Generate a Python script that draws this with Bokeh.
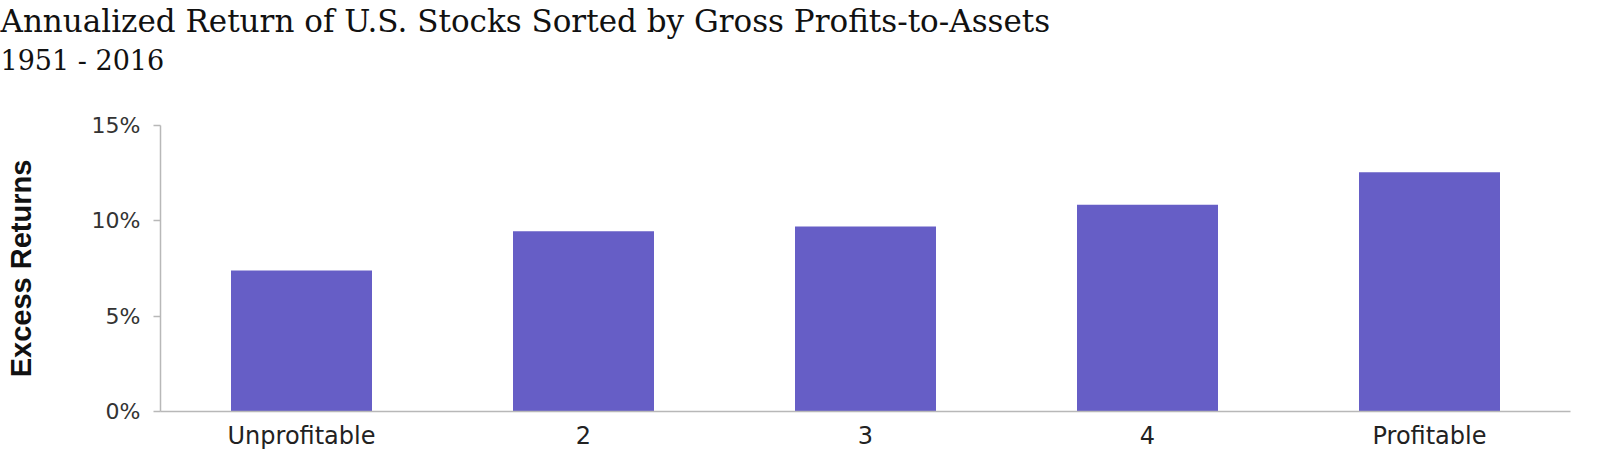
from bokeh.plotting import figure
from bokeh.models import ColumnDataSource, FactorRange, Range1d, FixedTicker, Title
from bokeh.embed import file_html
from bokeh.resources import INLINE

# ---- data ----
categories = ["Unprofitable", "2", "3", "4", "Profitable"]
excess_returns = [7.4, 9.45, 9.7, 10.85, 12.55]
y_ticks = [0, 5, 10, 15]
y_tick_labels = ["0%", "5%", "10%", "15%"]
title_text = "Annualized Return of U.S. Stocks Sorted by Gross Profits-to-Assets"
subtitle_text = "1951 - 2016"
y_label = "Excess Returns"

BAR = "#665ec6"
AXIS = "#b8b8b8"
SANS = "DejaVu Sans"
SERIF = "DejaVu Serif"

LEFT = 160

src = ColumnDataSource(dict(cat=categories, val=excess_returns))

p = figure(
    x_range=FactorRange(*categories, range_padding=0),
    y_range=Range1d(0, 15),
    frame_width=1410, frame_height=286,
    min_border_left=LEFT, min_border_right=14, min_border_top=0, min_border_bottom=0,
    output_backend="svg", toolbar_location=None,
    title=title_text,
)
p.title.text_font = SERIF
p.title.text_font_size = "31px"
p.title.text_font_style = "normal"
p.title.text_color = "#111111"
p.title.offset = -LEFT
p.title.standoff = 0

spacer = Title(text=" ", text_font_size="10px", standoff=33)
p.add_layout(spacer, "above")
sub = Title(text=subtitle_text, text_font=SERIF, text_font_size="27px",
            text_font_style="normal", text_color="#111111", offset=-LEFT, standoff=8)
p.add_layout(sub, "above")

p.vbar(x="cat", top="val", width=0.5, source=src, fill_color=BAR, line_color=None)

p.xgrid.grid_line_color = None
p.ygrid.grid_line_color = None
p.outline_line_color = None
p.background_fill_color = "white"
p.border_fill_color = "white"

ya = p.yaxis[0]
ya.ticker = FixedTicker(ticks=y_ticks)
ya.major_label_overrides = {t: l for t, l in zip(y_ticks, y_tick_labels)}
ya.major_tick_out = 7
ya.major_tick_in = 0
ya.minor_tick_out = 0
ya.minor_tick_in = 0
ya.axis_line_color = AXIS
ya.axis_line_width = 1.5
ya.major_tick_line_color = AXIS
ya.major_tick_line_width = 1.5
ya.major_label_text_font = SANS
ya.major_label_text_font_size = "22px"
ya.major_label_text_color = "#333333"
ya.major_label_standoff = 13
ya.axis_label = y_label
ya.axis_label_text_font = "Liberation Sans"
ya.axis_label_text_font_style = "bold"
ya.axis_label_text_font_size = "29px"
ya.axis_label_text_color = "#111111"
ya.axis_label_standoff = 52

xa = p.xaxis[0]
xa.major_tick_out = 0
xa.major_tick_in = 0
xa.minor_tick_out = 0
xa.axis_line_color = AXIS
xa.axis_line_width = 1.5
xa.major_label_text_font = SANS
xa.major_label_text_font_size = "24px"
xa.major_label_text_color = "#222222"
xa.major_label_standoff = 10

open("out.html", "w").write(file_html(p, INLINE))
